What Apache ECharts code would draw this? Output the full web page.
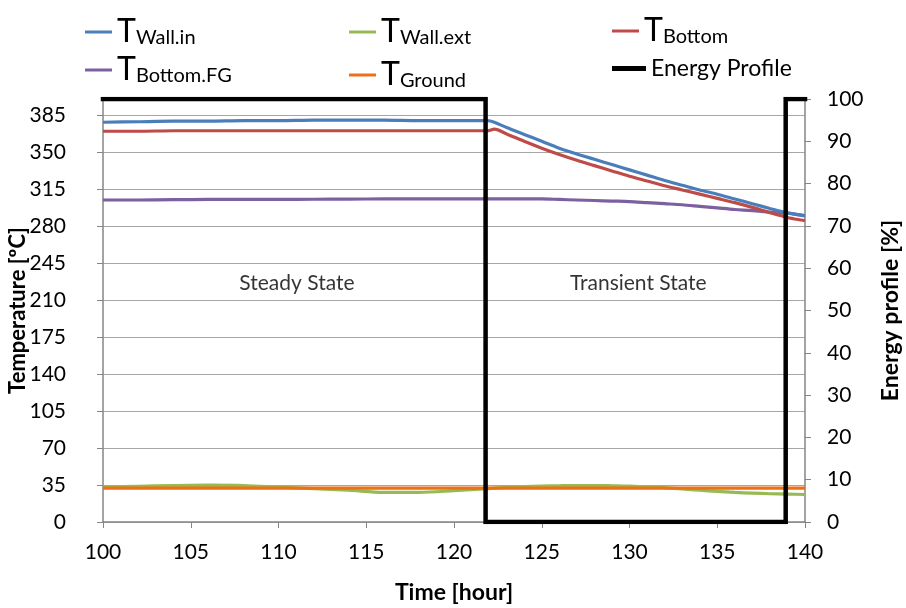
<!DOCTYPE html>
<html>
<head>
<meta charset="utf-8">
<script src="https://cdn.jsdelivr.net/npm/echarts@6/dist/echarts.min.js"></script>
<style>html,body{margin:0;padding:0;background:#fff}#c{width:906px;height:608px}</style>
</head>
<body>
<div id="c"></div>
<script>
// ---- data ----
const hours = [100,102,104,106,108,110,112,114,116,118,120,121.9,122.3,123,124,125,126,127,128,129,130,131,132,133,134,135,136,137,138,139,140];
const tWallIn = [378,378.5,379,379,379.5,379.5,380,380,380,379.5,379.5,379.5,378,373,366.5,360,353.5,348,343,338,333,328,323,318.5,314,310,305.5,301,296.5,292.3,289.7];
const tBottom = [369.5,369.5,370,370,370,370,370,370,370,370,370,370,371.5,367,360,353.5,347.5,342,337,332,327,322.5,318,314,310,306,302,297.5,292.5,288,285];
const tBottomFG = [304.5,304.5,304.8,305,305,305,305.2,305.3,305.5,305.5,305.5,305.5,305.5,305.5,305.5,305.5,305,304.5,304,303.5,303,302,301,300,298.5,297,295.5,294.5,293,292,289.5];
const tWallExt = [33,33.8,34.5,34.8,34.5,33,31.5,30,28,28,29.6,31.5,32,32.8,33.5,34,34.3,34.5,34.5,34.3,34,33.3,32.5,31.3,30,29,28,27.3,26.7,26.4,26];
const tGround = [32,32,32,32,32,32,32,32,32,32,32,32,32,32,32,32,32,32,32,32,32,32,32,32,32,32,32,32,32,32,32];
const energyHours = [100,121.8,121.8,138.9,138.9,140];
const energyValues = [100,100,0,0,100,100];
const xTicks = [100,105,110,115,120,125,130,135,140];
const tempTicks = [0,35,70,105,140,175,210,245,280,315,350,385];
const energyTicks = [0,10,20,30,40,50,60,70,80,90,100];
const stateLabels = [{name:'Steady State', x:111.05, y:225.5},{name:'Transient State', x:130.5, y:225.5}];

const names = ['T_Wall.in','T_Wall.ext','T_Bottom','T_Bottom.FG','T_Ground','Energy Profile'];
const colors = ['#4A7EBB','#98B954','#BE4B48','#7D60A0','#EC7014','#000000'];
const FONT = 'Lato';

function pair(xs, ys){ return xs.map((x,i)=>[x, ys[i]]); }

const chart = echarts.init(document.getElementById('c'), null, {renderer:'canvas'});

const richLegend = {
  t:{fontSize:32, fontFamily:FONT, color:'#000', lineHeight:32, verticalAlign:'top'},
  s:{fontSize:20, fontFamily:FONT, color:'#000', lineHeight:20, padding:[17,0,0,0], verticalAlign:'bottom'},
  e:{fontSize:23, fontFamily:FONT, color:'#000', lineHeight:26}
};
function legendFmt(n){
  if(n==='Energy Profile') return '{e|Energy Profile}';
  const sub = n.split('_')[1];
  return '{t|T}{s|' + sub + '}';
}
const legendPos = [
  {left:85, top:11}, {left:349, top:11}, {left:612, top:10},
  {left:85, top:49}, {left:349, top:54}, {left:612, top:57}
];
const legends = names.map((n,i)=>({
  data:[n], left:legendPos[i].left, top:legendPos[i].top, orient:'horizontal', padding:0,
  selectedMode:false, icon:'rect',
  itemWidth: n==='Energy Profile'?34:27, itemHeight: n==='Energy Profile'?5:3,
  itemGap:4, formatter:legendFmt,
  textStyle:{rich:richLegend}
}));

const tempSeries = [tWallIn, tWallExt, tBottom, tBottomFG, tGround];
const seriesOrder = [1,4,3,2,0]; // draw order
const series = [];
seriesOrder.forEach(i=>{
  series.push({
    name:names[i], type:'line', data:pair(hours, tempSeries[i]), yAxisIndex:0,
    showSymbol:false, symbol:'none', smooth:0.3,
    lineStyle:{color:colors[i], width:3.2}, itemStyle:{color:colors[i]},
    z: 2+series.length, animation:false
  });
});
series.push({
  name:'Energy Profile', type:'line', data:pair(energyHours, energyValues), yAxisIndex:1,
  showSymbol:false, symbol:'none', lineStyle:{color:'#000', width:4.5, join:'miter', cap:'square'},
  itemStyle:{color:'#000'}, z:10, animation:false
});
series.push({
  type:'scatter', yAxisIndex:0, symbolSize:0, silent:true, animation:false,
  data: stateLabels.map(s=>({value:[s.x, s.y], name:s.name})),
  label:{show:true, position:'inside', formatter:p=>p.name, fontFamily:FONT, fontSize:21, color:'#000'}
});

const axisGray = '#868686';
chart.setOption({
  animation:false,
  backgroundColor:'#fff',
  textStyle:{fontFamily:FONT},
  legend: legends,
  grid:{left:103, right:101, top:99, bottom:86, containLabel:false, outerBoundsMode:'none'},
  xAxis:{
    type:'value', min:100, max:140, interval:5,
    axisLine:{show:true, lineStyle:{color:axisGray, width:1.5}},
    axisTick:{show:true, inside:false, length:6, lineStyle:{color:axisGray}, customValues:xTicks},
    axisLabel:{fontSize:21, color:'#000', fontFamily:FONT, margin:20, customValues:xTicks},
    splitLine:{show:false},
    name:'Time [hour]', nameLocation:'middle', nameGap:59, nameMoveOverlap:false,
    nameTextStyle:{fontSize:23, fontWeight:'bold', color:'#000', fontFamily:FONT}
  },
  yAxis:[{
    type:'value', min:0, max:400, interval:35, position:'left',
    axisLine:{show:true, lineStyle:{color:axisGray, width:1.5}},
    axisTick:{show:true, inside:false, length:6, lineStyle:{color:axisGray}, customValues:tempTicks},
    axisLabel:{fontSize:21, color:'#000', fontFamily:FONT, margin:37, customValues:tempTicks},
    splitLine:{show:true, lineStyle:{color:'#A6A6A6', width:1.2}},
    name:'Temperature [ºC]', nameLocation:'middle', nameGap:74, nameRotate:90, nameMoveOverlap:false,
    nameTextStyle:{fontSize:22, fontWeight:'bold', color:'#000', fontFamily:FONT}
  },{
    type:'value', min:0, max:100, interval:10, position:'right',
    axisLine:{show:true, lineStyle:{color:axisGray, width:1.5}},
    axisTick:{show:true, inside:false, length:6, lineStyle:{color:axisGray}, customValues:energyTicks},
    axisLabel:{fontSize:21, color:'#000', fontFamily:FONT, margin:22, customValues:energyTicks},
    splitLine:{show:false},
    name:'Energy profile [%]', nameLocation:'middle', nameGap:74, nameRotate:90, nameMoveOverlap:false,
    nameTextStyle:{fontSize:23, fontWeight:'bold', color:'#000', fontFamily:FONT}
  }],
  series: series
});
</script>
</body>
</html>
